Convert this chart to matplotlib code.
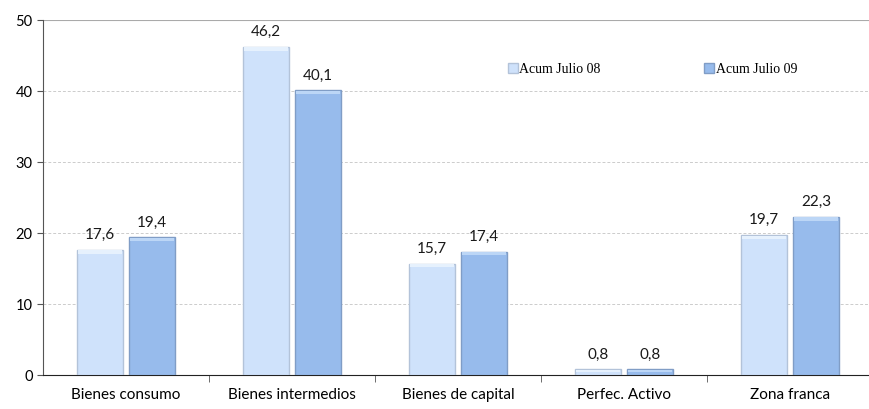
import matplotlib.pyplot as plt
import numpy as np

categories = ["Bienes consumo", "Bienes intermedios", "Bienes de capital", "Perfec. Activo", "Zona franca"]
series_names = ["Acum Julio 08", "Acum Julio 09"]
values_08 = [17.6, 46.2, 15.7, 0.8, 19.7]
values_09 = [19.4, 40.1, 17.4, 0.8, 22.3]
yticks = [0, 10, 20, 30, 40, 50]

FONT = "Lato"
fig = plt.figure(figsize=(8.69, 4.09), dpi=100)
ax = fig.add_axes([0.0495, 0.083, 0.955, 0.868])

x = np.arange(len(categories))
w = 0.28
gap = 0.035
c1, c2 = "#cfe2fb", "#97bbec"
e1, e2 = "#b3c3d9", "#809dc6"
h1, h2 = "#e6f1fd", "#bcd6f6"
offs = (-w / 2 - gap / 2, w / 2 + gap / 2)
bars = []
for off, vals, c, e, h, name in ((offs[0], values_08, c1, e1, h1, series_names[0]),
                                 (offs[1], values_09, c2, e2, h2, series_names[1])):
    b = ax.bar(x + off, vals, w, color=c, edgecolor=e, linewidth=1.0, label=name, zorder=3)
    vals_arr = np.array(vals)
    hh = np.minimum(0.5, vals_arr * 0.4)
    ax.bar(x + off, hh, w * 0.94, bottom=vals_arr - hh - 0.05, color=h, linewidth=0, zorder=4)
    bars.append((b, vals))

for b, vals in bars:
    for r, v in zip(b, vals):
        ax.text(r.get_x() + r.get_width() / 2, v + 1.1, f"{v:.1f}".replace(".", ","),
                ha="center", va="bottom", fontsize=11, family=FONT, color="#1a1a1a")

ax.set_xlim(-0.5, len(categories) - 0.5)
ax.set_ylim(0, 50)
ax.set_yticks(yticks)
ax.set_yticklabels([str(t) for t in yticks], fontsize=10.5, family=FONT)
ax.set_xticks(x)
ax.set_xticklabels(categories, fontsize=11, family=FONT)
ax.tick_params(axis="x", length=0, pad=9)
ax.set_xticks(np.arange(0.5, len(categories) - 0.5, 1), minor=True)
ax.tick_params(axis="x", which="minor", length=5, color="#555555", direction="out")
ax.tick_params(axis="y", length=4, color="#555555", direction="out")

for t in yticks[1:-1]:
    ax.axhline(t, color="#cccccc", linewidth=0.7, linestyle=(0, (3, 2)), zorder=1)
ax.axhline(50, color="#aaaaaa", linewidth=0.8, zorder=1)

for s in ("top", "right"):
    ax.spines[s].set_visible(False)
ax.spines["left"].set_color("#555555")
ax.spines["bottom"].set_color("#222222")

leg = ax.legend(loc="upper left", bbox_to_anchor=(0.545, 0.915), ncol=2, frameon=False,
                prop={"family": "Liberation Serif", "size": 10}, handlelength=0.7,
                handleheight=0.7, handletextpad=0.1, columnspacing=7.5)

fig.savefig("out.png", dpi=100)
